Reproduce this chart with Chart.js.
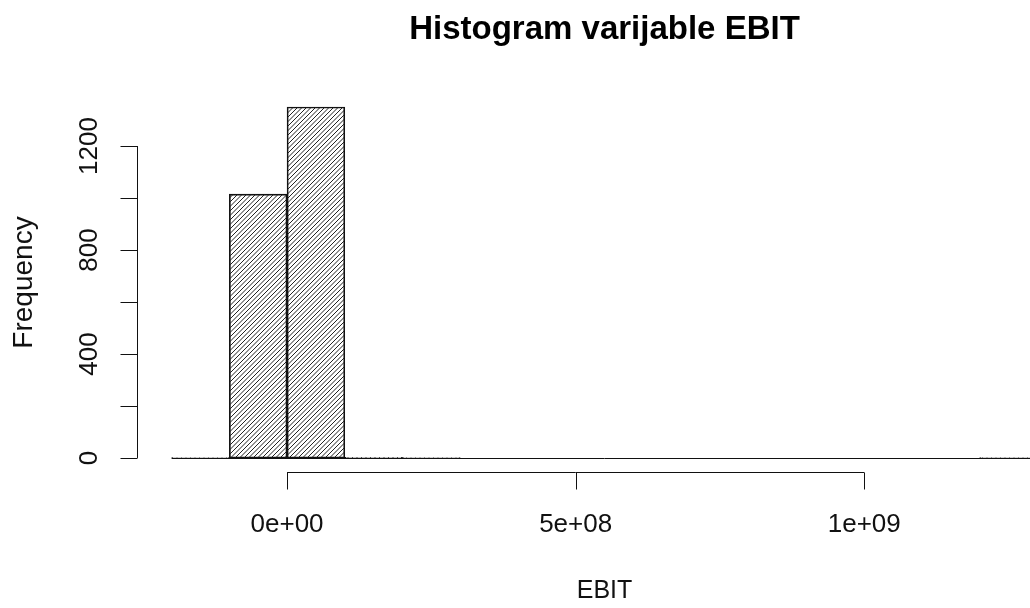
<!DOCTYPE html>
<html>
<head>
<meta charset="utf-8">
<script src="https://cdn.jsdelivr.net/npm/chart.js@4"></script>
<style>
  html, body { margin: 0; padding: 0; background: #fff; overflow: hidden; }
  #wrap { width: 1030px; height: 608px; overflow: hidden; }
</style>
</head>
<body>
<div id="wrap"><canvas id="histChart" width="1110" height="608"></canvas></div>
<script>
// histogram of EBIT, bins of 1e8
const binStarts = [-2e8, -1e8, 0, 1e8, 2e8, 3e8, 4e8, 5e8, 6e8, 7e8, 8e8, 9e8, 1e9, 1.1e9, 1.2e9];
const binEnds   = [-1e8, 0, 1e8, 2e8, 3e8, 4e8, 5e8, 6e8, 7e8, 8e8, 9e8, 1e9, 1.1e9, 1.2e9, 1.3e9];
const counts    = [1, 1015, 1350, 2, 1, 0, 0, 0, 0, 0, 0, 0, 0, 0, 1];

const xTicks = [0, 5e8, 1e9];
const xTickLabels = ['0e+00', '5e+08', '1e+09'];
const yTicks = [0, 200, 400, 600, 800, 1000, 1200];
const yTickLabels = ['0', '', '400', '', '800', '', '1200'];

const titleText = 'Histogram varijable EBIT';
const xTitle = 'EBIT';
const yTitle = 'Frequency';

const FONT = '"Liberation Sans", Arial, sans-serif';

// R style axis limits: data range + 4%
const xLo = binStarts[0], xHi = binEnds[binEnds.length - 1];
const xPad = (xHi - xLo) * 0.04;
const yHi = Math.max(...counts);
const yPad = yHi * 0.04;

const histData = binStarts.map((s, i) => ({ x: (s + binEnds[i]) / 2, y: counts[i] }));

// diagonal hatching like R density lines
const makeHatch = () => {
  const c = document.createElement('canvas');
  c.width = 9; c.height = 9;
  const g = c.getContext('2d');
  g.strokeStyle = '#222';
  g.lineWidth = 1;
  g.beginPath();
  [0, 4.5, 9, 13.5, 18].forEach(k => {
    g.moveTo(k, 0);
    g.lineTo(k - 9, 9);
  });
  g.stroke();
  return g.createPattern(c, 'repeat');
};

const rAxes = {
  id: 'rAxes',
  beforeDatasetsDraw(chart) {
    const { ctx, scales: { x, y } } = chart;
    // zero-height bins show as a line on 0
    ctx.save();
    ctx.strokeStyle = '#111';
    ctx.lineWidth = 1;
    const y0 = Math.round(y.getPixelForValue(0)) + 0.5;
    ctx.beginPath();
    ctx.moveTo(x.getPixelForValue(xLo), y0);
    ctx.lineTo(x.getPixelForValue(xHi), y0);
    ctx.stroke();
    ctx.restore();
  },
  afterDraw(chart) {
    const { ctx, chartArea: a, scales: { x, y } } = chart;
    ctx.save();
    ctx.strokeStyle = '#111';
    ctx.fillStyle = '#111';
    ctx.lineWidth = 1;

    // y axis
    const ax = Math.round(a.left) + 0.5;
    ctx.beginPath();
    ctx.moveTo(ax, y.getPixelForValue(yTicks[0]));
    ctx.lineTo(ax, y.getPixelForValue(yTicks[yTicks.length - 1]));
    yTicks.forEach(v => {
      const py = Math.round(y.getPixelForValue(v)) + 0.5;
      ctx.moveTo(ax, py);
      ctx.lineTo(ax - 17, py);
    });
    ctx.stroke();
    ctx.font = '26px ' + FONT;
    ctx.textAlign = 'center';
    ctx.textBaseline = 'alphabetic';
    yTicks.forEach((v, i) => {
      if (!yTickLabels[i]) return;
      ctx.save();
      ctx.translate(97, y.getPixelForValue(v));
      ctx.rotate(-Math.PI / 2);
      ctx.fillText(yTickLabels[i], 0, 0);
      ctx.restore();
    });

    // x axis
    const ay = Math.round(a.bottom) + 0.5;
    ctx.beginPath();
    ctx.moveTo(x.getPixelForValue(xTicks[0]), ay);
    ctx.lineTo(x.getPixelForValue(xTicks[xTicks.length - 1]), ay);
    xTicks.forEach(v => {
      const px = Math.round(x.getPixelForValue(v)) + 0.5;
      ctx.moveTo(px, ay);
      ctx.lineTo(px, ay + 17);
    });
    ctx.stroke();
    xTicks.forEach((v, i) => {
      ctx.fillText(xTickLabels[i], x.getPixelForValue(v), 532);
    });

    // titles
    const cx = (a.left + a.right) / 2;
    ctx.font = '25px ' + FONT;
    ctx.fillText(xTitle, cx, 598);
    ctx.font = '28px ' + FONT;
    ctx.save();
    ctx.translate(32, (a.top + a.bottom) / 2);
    ctx.rotate(-Math.PI / 2);
    ctx.fillText(yTitle, 0, 0);
    ctx.restore();
    ctx.font = 'bold 33px ' + FONT;
    ctx.fillStyle = '#000';
    ctx.fillText(titleText, cx, 39);
    ctx.restore();
  }
};

const ctx = document.getElementById('histChart');
const histChart = new Chart(ctx, {
  type: 'bar',
  data: {
    datasets: [{
      label: 'EBIT',
      data: histData,
      backgroundColor: makeHatch(),
      borderColor: '#111',
      borderWidth: 1,
      borderSkipped: false,
      barPercentage: 1,
      categoryPercentage: 1
    }]
  },
  options: {
    responsive: false,
    animation: false,
    layout: { padding: { left: 137, right: 1110 - 1072, top: 93, bottom: 608 - 472 } },
    scales: {
      x: {
        type: 'linear',
        display: false,
        offset: false,
        min: xLo - xPad,
        max: xHi + xPad,
        ticks: { stepSize: 1e8, includeBounds: false }
      },
      y: {
        display: false,
        min: -yPad,
        max: yHi + yPad
      }
    },
    plugins: {
      legend: { display: false },
      tooltip: { enabled: false }
    }
  },
  plugins: [rAxes]
});
</script>
</body>
</html>
